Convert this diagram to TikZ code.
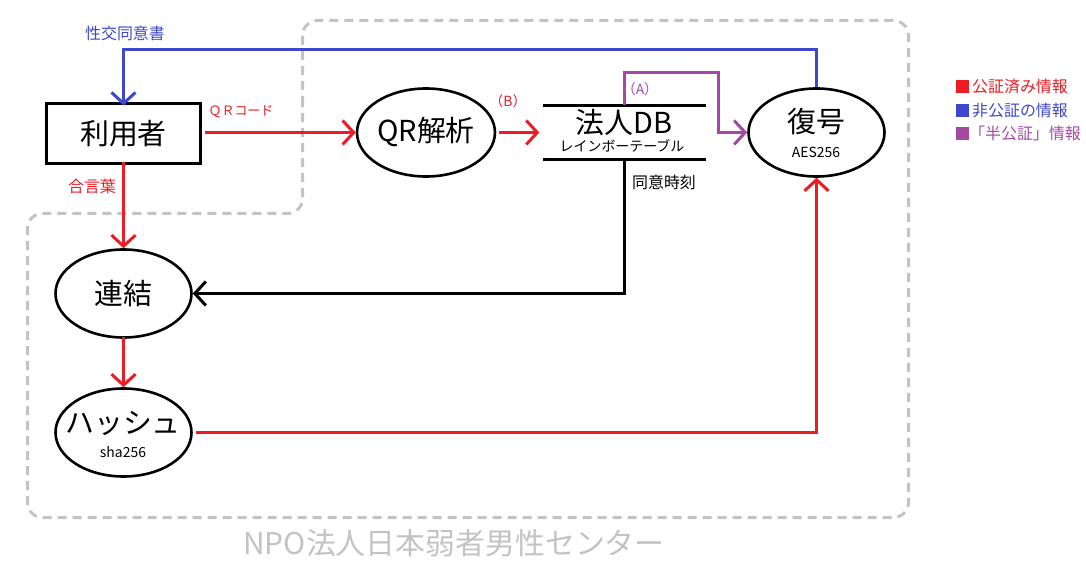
\documentclass[tikz,border=0pt]{standalone}
\usepackage{fontspec}
\setmainfont{Noto Sans CJK JP}
\usetikzlibrary{arrows.meta,positioning,shapes.geometric}
\definecolor{cred}{HTML}{ED1C24}
\definecolor{cblue}{HTML}{3F48CC}
\definecolor{cpurple}{HTML}{A349A4}
\definecolor{cgray}{HTML}{C3C3C3}
\tikzset{
  proc/.style={draw=black,line width=2.6bp,ellipse,minimum width=136bp,minimum height=88bp,inner sep=0pt,align=center},
  flow/.style={-{Straight Barb[length=11bp,width=24bp]},line width=3bp},
  big/.style={font=\fontsize{29}{32}\selectfont},
  small/.style={font=\fontsize{14}{16}\selectfont},
  lbl/.style={font=\fontsize{15}{17}\selectfont,inner sep=0pt}
}
\begin{document}
\begin{tikzpicture}[x=1bp,y=-1bp]
\useasboundingbox (0,0) rectangle (1086,576);
% dashed region
\draw[cgray,line width=3bp,dash pattern=on 9bp off 6bp,rounded corners=15bp]
  (302.5,120) -- (302.5,20.5) -- (908.5,20.5) -- (908.5,517.5) -- (27.5,517.5) -- (27.5,213.5) -- (302.5,213.5) -- cycle;
% nodes
\node[draw=black,line width=3bp,minimum width=154bp,minimum height=60bp,inner sep=0pt,big] (user) at (123.5,134) {利用者};
\node[proc] (qr) at (426,132.5) {\fontsize{29}{32}\selectfont QR解析};
\node[minimum width=162bp,minimum height=54bp,inner sep=0pt] (db) at (624.5,132.5) {};
\draw[line width=3bp] (db.north west) -- (db.north east);
\draw[line width=3bp] (db.south west) -- (db.south east);
\node[big,inner sep=0pt] (dbt) at (624,123) {法人DB};
\node[small,inner sep=0pt] (dbs) at (622,146) {レインボーテーブル};
\node[proc] (dec) at (816.5,132.5) {};
\node[big,inner sep=0pt] (dect) at (816,122) {復号};
\node[small,inner sep=0pt] (decs) at (816,152) {AES256};
\node[proc] (link) at (123.5,293.5) {\fontsize{29}{32}\selectfont 連結};
\node[proc] (hash) at (123.5,432.5) {};
\node[big,inner sep=0pt] (hasht) at (123,423) {ハッシュ};
\node[small,inner sep=0pt] (hashs) at (123,452) {sha256};
\coordinate (btop) at (0,49.5);
\coordinate (ptop) at (718.5,72.5);
% connectors
\draw[flow,draw=cblue] (dec.north) -- (dec.north |- btop) -| ([yshift=-3bp]user.north);
\draw[flow,draw=cred] ([xshift=3bp]user.east |- qr.west) -- (qr.west);
\draw[flow,draw=cred] ([xshift=3bp]qr.east) -- ([xshift=-4bp]db.west);
\draw[flow,draw=cpurple] (db.north) -- (db.north |- ptop) -- (ptop) |- (dec.west);
\draw[flow,draw=black] ([yshift=1bp]db.south) |- (link.east);
\draw[flow,draw=cred] ([yshift=3bp]user.south) -- (link.north);
\draw[flow,draw=cred] ([yshift=2bp]link.south) -- (hash.north);
\draw[flow,draw=cred] ([xshift=3bp]hash.east) -| (dec.south);
% labels
\node[lbl,cblue,font=\fontsize{16}{18}\selectfont] (l1) at (125,33) {性交同意書};
\node[lbl,cred,font=\fontsize{13}{15}\selectfont] (l2) at (241,112) {ＱＲコード};
\node[lbl,cred,font=\fontsize{16}{18}\selectfont] (l3) at (92,186) {合言葉};
\node[lbl,cred,font=\fontsize{14}{16}\selectfont] (l4) at (508,101) {（B）};
\node[lbl,cpurple,font=\fontsize{14}{16}\selectfont] (l5) at (640,89) {（A）};
\node[lbl,black,font=\fontsize{16}{18}\selectfont] (l6) at (664,182) {同意時刻};
% legend
\fill[cred] (956,80) rectangle (969,93);
\node[lbl,cred,anchor=west,font=\fontsize{16}{18}\selectfont] (g1) at (972,87) {公証済み情報};
\fill[cblue] (956,104) rectangle (969,117);
\node[lbl,cblue,anchor=west,font=\fontsize{16}{18}\selectfont] (g2) at (972,111) {非公証の情報};
\fill[cpurple] (956,127) rectangle (969,140);
\node[lbl,cpurple,anchor=west,font=\fontsize{16}{18}\selectfont] (g3) at (969,133) {「半公証」情報};
% footer
\node[cgray,inner sep=0pt,font=\fontsize{30}{33}\selectfont] (foot) at (454,543) {NPO法人日本弱者男性センター};
\end{tikzpicture}
\end{document}
